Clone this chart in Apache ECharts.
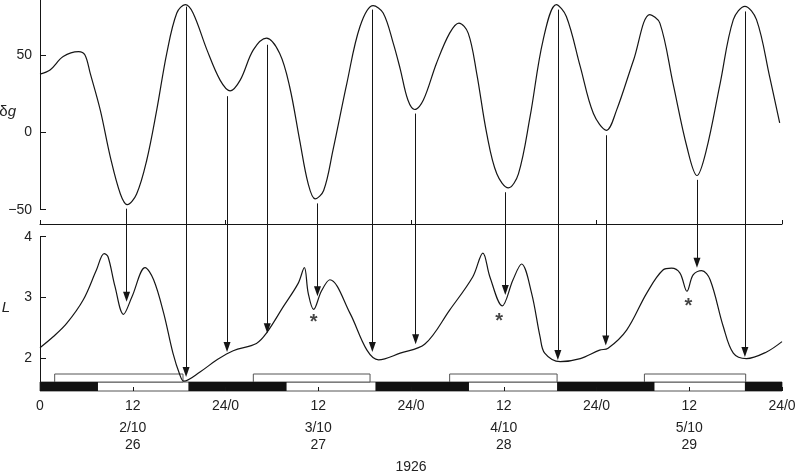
<!DOCTYPE html>
<html>
<head>
<meta charset="utf-8">
<script src="https://cdn.jsdelivr.net/npm/echarts@6/dist/echarts.min.js"></script>
<style>
  html, body { margin: 0; padding: 0; background: #fff; }
  #chart { width: 799px; height: 472px; }
</style>
</head>
<body>
<div id="chart"></div>
<script>
// x = hours from 0h on 2/10/1926
var gHours  = [0, 1.3, 3.0, 5.0, 5.8, 6.5, 7.8, 9.1, 10.4, 11.3, 12.5, 13.8, 15.1, 16.4, 17.7, 18.8, 19.8, 21.6, 23.3, 24.6, 25.9, 27.6, 29.3, 31.0, 32.3, 33.6, 34.7, 35.6, 36.7, 37.9, 39.7, 41.4, 43.1, 44.4, 45.7, 46.6, 47.6, 48.5, 49.6, 51.3, 53.0, 54.2, 55.4, 56.5, 57.8, 59.1, 60.6, 61.9, 63.4, 65.1, 66.8, 68.1, 69.9, 71.6, 73.3, 74.6, 76.8, 78.9, 80.2, 81.9, 83.7, 85.0, 86.2, 88.0, 89.7, 91.2, 92.7, 94.4, 95.7];
var gValues = [37.6, 40.2, 48.9, 52.1, 50, 38, 14.3, -16, -39.8, -46.7, -39.8, -18.2, 14.3, 51, 77, 82.4, 77, 53.2, 33.7, 26.8, 33.7, 53.2, 60.8, 51, 29.4, -5.2, -33.3, -43, -37.6, -11.7, 31.6, 68.3, 81.8, 77, 57.6, 41, 20.8, 14.7, 20.8, 44.6, 64, 70.5, 64, 38.1, -0.9, -26.8, -35.9, -26.8, 9.9, 59.7, 82.4, 74.8, 42.4, 12.1, 1.3, 14.3, 46.7, 76, 70.5, 31.6, -9.5, -27.9, -11.7, 31.6, 72.7, 81.3, 72.7, 35.9, 6];

var lHours  = [0, 1.7, 3.45, 5.6, 7.3, 8.3, 8.8, 9.7, 10.8, 11.9, 13.6, 14.7, 16.0, 17.2, 18.1, 18.6, 20.7, 22.9, 25.0, 28.0, 29.3, 31.5, 33.4, 34.2, 34.7, 35.4, 36.4, 37.5, 40.1, 42.3, 43.8, 46.6, 49.8, 53.0, 56.0, 57.3, 58.2, 59.8, 61.2, 62.3, 63.6, 64.7, 65.3, 67.3, 69.9, 72.4, 73.5, 75.9, 78.5, 80.6, 81.7, 82.8, 83.7, 84.5, 85.6, 86.7, 88.4, 89.7, 91.4, 94.0, 96.0];
var lValues = [2.17, 2.35, 2.57, 2.96, 3.45, 3.72, 3.67, 3.18, 2.72, 3.01, 3.49, 3.29, 2.74, 2.08, 1.72, 1.62, 1.77, 1.97, 2.12, 2.24, 2.41, 2.85, 3.23, 3.49, 3.07, 2.80, 3.10, 3.29, 2.74, 2.13, 1.97, 2.08, 2.23, 2.79, 3.34, 3.73, 3.34, 2.86, 3.29, 3.55, 3.07, 2.35, 2.08, 1.94, 1.99, 2.13, 2.16, 2.46, 3.07, 3.45, 3.48, 3.40, 3.10, 3.37, 3.44, 3.29, 2.52, 2.08, 1.99, 2.10, 2.27];

// arrows: start on the dg curve, tip on the L curve
var arrowHours = [11.2, 18.9, 24.2, 29.4, 35.9, 43.0, 48.6, 60.2, 67.0, 73.2, 85.0, 91.2];
var arrowFromG = [-49.3, 81.1, 23.3, 56.5, -45.9, 79.2, 12.1, -38.7, 79.2, -1.9, -30.7, 78];
var arrowToL   = [2.93, 1.69, 2.10, 2.41, 3.02, 2.10, 2.23, 3.04, 1.97, 2.21, 3.49, 2.02];

// night (black) and the open boxes above the day/night strip
var nightStart = [0, 19.2, 43.4, 66.9, 91.2];
var nightEnd   = [7.5, 31.9, 55.5, 79.5, 96];
var boxStart   = [1.9, 27.6, 53.0, 78.2];
var boxEnd     = [18.5, 42.7, 66.9, 91.3];

var starHours  = [35.4, 59.4, 83.9];
var starValues = [2.66, 2.68, 2.93];

var hourLabels = ['0', '12', '24/0', '12', '24/0', '12', '24/0', '12', '24/0'];
var dateHours  = [12, 36, 60, 84];
var dateLabels = ['2/10\n26', '3/10\n27', '4/10\n28', '5/10\n29'];
var gTicks = [-50, 0, 50];
var lTicks = [2, 3, 4];

var G_MIN = -59.2, G_MAX = 85.4;
var L_MIN = 1.456, L_MAX = 4.209;
var STRIP_TOP = 1.604, BOX_TOP = 1.736;
var HEAD = 0.08; // half arrow head, L units

var INK = '#151515';
var FONT = "'Liberation Sans', Arial, sans-serif";

function zip(a, b) {
  return a.map(function (v, i) { return [v, b[i]]; });
}

function band(lo, hi, style) {
  return function (params, api) {
    var p0 = api.coord([api.value(0), hi]);
    var p1 = api.coord([api.value(1), lo]);
    return {
      type: 'rect',
      shape: { x: p0[0], y: p0[1], width: p1[0] - p0[0], height: p1[1] - p0[1] },
      style: style
    };
  };
}

var topLines = [[{ coord: [0, -50] }, { coord: [0, G_MAX] }]];
var lowLines = [[{ coord: [0, L_MIN], symbol: 'none' }, { coord: [0, 4], symbol: 'none' }]];
arrowHours.forEach(function (h, i) {
  topLines.push([{ coord: [h, arrowFromG[i]] }, { coord: [h, G_MIN] }]);
  lowLines.push([{ coord: [h, L_MAX], symbol: 'none' },
                 { coord: [h, arrowToL[i] + HEAD], symbol: 'triangle', symbolSize: [7, 10] }]);
});

var chart = echarts.init(document.getElementById('chart'));
chart.setOption({
  animation: false,
  textStyle: { fontFamily: FONT },
  grid: [
    { left: 40, right: 17, top: 0, height: 224, containLabel: false, outerBoundsMode: 'none' },
    { left: 40, right: 17, top: 224, height: 167, containLabel: false, outerBoundsMode: 'none' }
  ],
  xAxis: [
    {
      gridIndex: 0, type: 'value', min: 0, max: 96, interval: 24, position: 'bottom',
      axisLine: { onZero: false, lineStyle: { color: INK, width: 1 } },
      axisTick: { inside: true, length: 4, lineStyle: { color: INK } },
      axisLabel: { show: false },
      splitLine: { show: false }
    },
    {
      gridIndex: 1, type: 'value', min: 0, max: 96, interval: 12, position: 'bottom', z: 10,
      axisLine: { show: false, onZero: false },
      axisTick: { inside: true, length: 4, lineStyle: { color: INK } },
      axisLabel: {
        color: '#222', fontSize: 14, margin: 8, fontFamily: FONT,
        formatter: function (v) { return hourLabels[Math.round(v / 12)]; }
      },
      splitLine: { show: false }
    },
    {
      gridIndex: 1, type: 'value', min: 0, max: 96, position: 'bottom',
      axisLine: { show: false, onZero: false }, axisTick: { show: false }, splitLine: { show: false },
      axisLabel: {
        customValues: dateHours, color: '#222', fontSize: 14, lineHeight: 17, margin: 29, fontFamily: FONT,
        formatter: function (v) { return dateLabels[dateHours.indexOf(v)]; }
      },
      name: '1926', nameLocation: 'middle', nameGap: 69, nameMoveOverlap: false,
      nameTextStyle: { color: '#222', fontSize: 14, fontFamily: FONT }
    }
  ],
  yAxis: [
    {
      gridIndex: 0, type: 'value', min: G_MIN, max: G_MAX,
      axisLine: { show: false },
      axisTick: { show: true, inside: true, length: 6, customValues: gTicks, lineStyle: { color: INK } },
      axisLabel: {
        customValues: gTicks, color: '#222', fontSize: 14, margin: 8, fontFamily: FONT,
        formatter: function (v) { return v < 0 ? '\u2212' + Math.abs(v) : String(v); }
      },
      splitLine: { show: false },
      name: '{d|δ}{g|g}', nameLocation: 'middle', nameRotate: 0, nameGap: 24, nameMoveOverlap: false,
      nameTextStyle: {
        rich: {
          d: { fontSize: 15, color: '#222', fontFamily: FONT },
          g: { fontSize: 15, color: '#222', fontStyle: 'italic', fontFamily: FONT }
        }
      }
    },
    {
      gridIndex: 1, type: 'value', min: L_MIN, max: L_MAX,
      axisLine: { show: false },
      axisTick: { show: true, inside: true, length: 6, customValues: lTicks, lineStyle: { color: INK } },
      axisLabel: { customValues: lTicks, color: '#222', fontSize: 14, margin: 8, fontFamily: FONT },
      splitLine: { show: false },
      name: 'L', nameLocation: 'middle', nameRotate: 0, nameGap: 30, nameMoveOverlap: false,
      nameTextStyle: { color: '#222', fontSize: 15, fontStyle: 'italic', fontFamily: FONT }
    }
  ],
  series: [
    {
      name: 'δg', type: 'line', xAxisIndex: 0, yAxisIndex: 0, clip: false,
      data: zip(gHours, gValues), smooth: 0.35, showSymbol: false,
      lineStyle: { color: INK, width: 1.2 },
      markLine: {
        silent: true, symbol: 'none', label: { show: false }, emphasis: { disabled: true },
        lineStyle: { color: INK, width: 1, type: 'solid' },
        data: topLines
      }
    },
    {
      name: 'L', type: 'line', xAxisIndex: 1, yAxisIndex: 1, clip: false,
      data: zip(lHours, lValues), smooth: 0.35, showSymbol: false,
      lineStyle: { color: INK, width: 1.2 },
      markLine: {
        silent: true, symbol: 'none', label: { show: false }, emphasis: { disabled: true },
        lineStyle: { color: INK, width: 1, type: 'solid' },
        itemStyle: { color: INK },
        data: lowLines
      }
    },
    {
      type: 'custom', xAxisIndex: 1, yAxisIndex: 1, silent: true, z: 3,
      renderItem: band(L_MIN, STRIP_TOP, { fill: '#fff', stroke: '#555', lineWidth: 1 }),
      data: [[0, 96]]
    },
    {
      type: 'custom', xAxisIndex: 1, yAxisIndex: 1, silent: true, z: 4,
      renderItem: band(L_MIN, STRIP_TOP, { fill: '#111' }),
      data: zip(nightStart, nightEnd)
    },
    {
      type: 'custom', xAxisIndex: 1, yAxisIndex: 1, silent: true, z: 3,
      renderItem: band(STRIP_TOP, BOX_TOP, { fill: '#fff', stroke: '#555', lineWidth: 1 }),
      data: zip(boxStart, boxEnd)
    },
    {
      type: 'scatter', xAxisIndex: 1, yAxisIndex: 1, silent: true, symbolSize: 0,
      data: zip(starHours, starValues),
      label: { show: true, position: 'inside', formatter: '*', fontSize: 20, fontWeight: 'bold', color: INK, offset: [0, 5] }
    }
  ]
});
</script>
</body>
</html>
